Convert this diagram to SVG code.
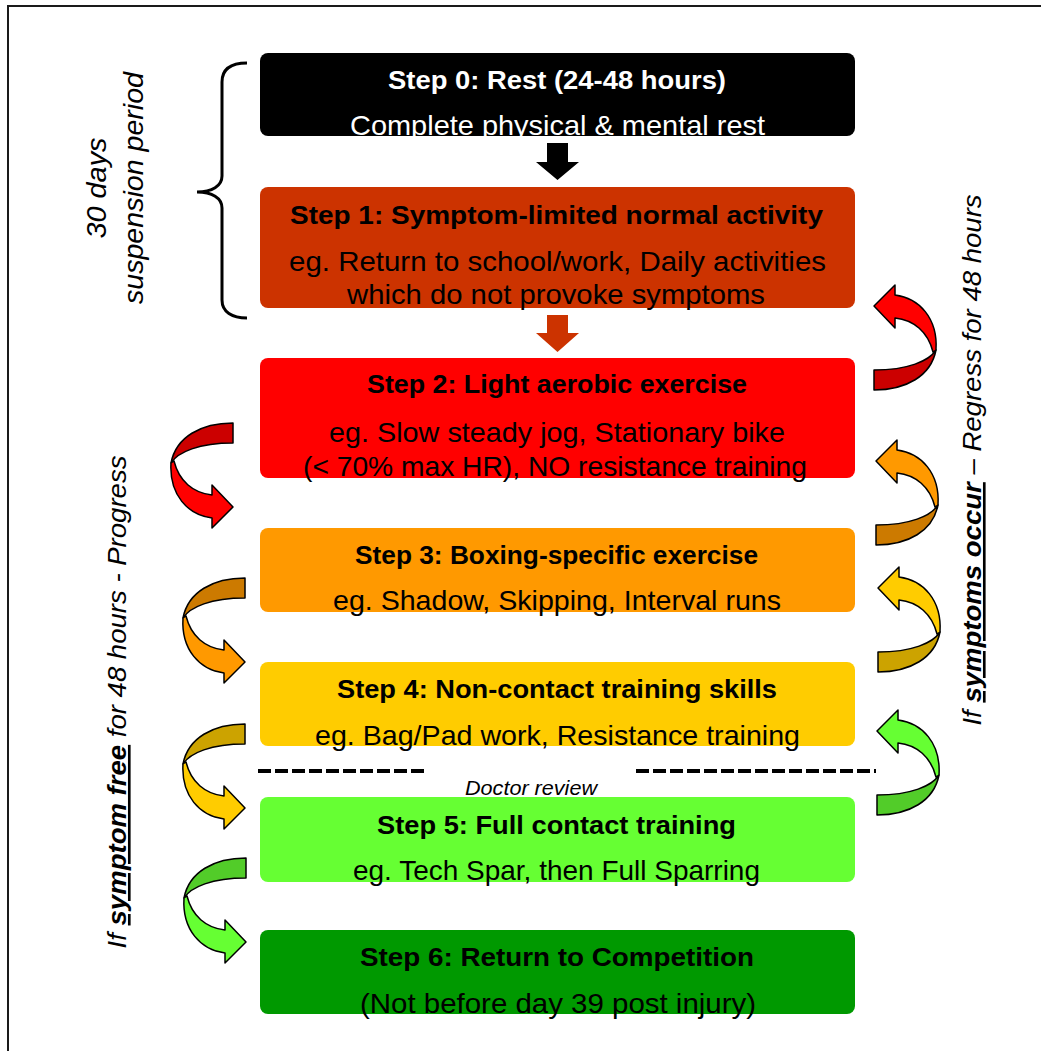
<svg xmlns="http://www.w3.org/2000/svg" xmlns:xlink="http://www.w3.org/1999/xlink" width="1041" height="1051" viewBox="0 0 1041 1051">
<style>
text{font-family:"Liberation Sans",Arial,sans-serif;fill:#000}
.t{font-size:26.5px;font-weight:bold;text-anchor:middle}
.b{font-size:28.5px;text-anchor:middle}
.w{fill:#fff}
.it{font-style:italic}
.side{font-size:26.5px;font-style:italic;text-anchor:middle}
.ul{font-weight:bold;text-decoration:underline}
.arr{stroke:#000;stroke-width:1.5;stroke-linejoin:round}
</style>
<defs>
<path id="cD" class="arr" d="M0,0 C-32,0 -57,14 -62,40 C-55,29 -34,20 0,20 Z"/>
<path id="cL" class="arr" d="M-62,40 C-64,72 -45,92 -21,95 L-21,105 L0,84 L-21,62 L-21,72 C-40,70 -54,58 -59,38 Z"/>
</defs>
<rect x="0" y="0" width="1041" height="1051" fill="#fff"/>
<rect x="8" y="6" width="1100" height="1100" fill="none" stroke="#1a1a1a" stroke-width="2"/>

<g id="brace">
<path d="M247,63 C232,63 222,68 222,82 L222,176 C222,186 212,192 197,192 C212,192 222,198 222,208 L222,300 C222,312 232,318 247,318" fill="none" stroke="#000" stroke-width="3"/>
<text class="it" font-size="27" text-anchor="middle" transform="translate(106,188) rotate(-90)" textLength="101" lengthAdjust="spacingAndGlyphs">30 days</text>
<text class="it" font-size="27" text-anchor="middle" transform="translate(143,188) rotate(-90)" textLength="232" lengthAdjust="spacingAndGlyphs">suspension period</text>
</g>

<g id="step0">
<rect x="260" y="53" width="595" height="83" rx="8" fill="#000"/>
<text class="t w" x="557" y="89" textLength="338" lengthAdjust="spacingAndGlyphs">Step 0: Rest (24-48 hours)</text>
<text class="b w" x="557.5" y="135" textLength="415" lengthAdjust="spacingAndGlyphs">Complete physical &amp; mental rest</text>
</g>
<g id="step1">
<rect x="260" y="187" width="595" height="121" rx="8" fill="#CC3300"/>
<text class="t" x="556.5" y="224" textLength="533" lengthAdjust="spacingAndGlyphs">Step 1: Symptom-limited normal activity</text>
<text class="b" x="557.5" y="271" textLength="537" lengthAdjust="spacingAndGlyphs">eg. Return to school/work, Daily activities</text>
<text class="b" x="556" y="304" textLength="418" lengthAdjust="spacingAndGlyphs">which do not provoke symptoms</text>
</g>
<g id="step2">
<rect x="260" y="358" width="595" height="120" rx="8" fill="#FF0000"/>
<text class="t" x="557" y="393" textLength="380" lengthAdjust="spacingAndGlyphs">Step 2: Light aerobic exercise</text>
<text class="b" x="557" y="442" textLength="456" lengthAdjust="spacingAndGlyphs">eg. Slow steady jog, Stationary bike</text>
<text class="b" x="555" y="476" textLength="504" lengthAdjust="spacingAndGlyphs">(&lt; 70% max HR), NO resistance training</text>
</g>
<g id="step3">
<rect x="260" y="528" width="595" height="84" rx="8" fill="#FF9900"/>
<text class="t" x="556.5" y="564" textLength="403" lengthAdjust="spacingAndGlyphs">Step 3: Boxing-specific exercise</text>
<text class="b" x="557" y="610" textLength="448" lengthAdjust="spacingAndGlyphs">eg. Shadow, Skipping, Interval runs</text>
</g>
<g id="step4">
<rect x="260" y="662" width="595" height="84" rx="8" fill="#FFCC00"/>
<text class="t" x="557" y="698" textLength="440" lengthAdjust="spacingAndGlyphs">Step 4: Non-contact training skills</text>
<text class="b" x="557.5" y="745" textLength="485" lengthAdjust="spacingAndGlyphs">eg. Bag/Pad work, Resistance training</text>
</g>
<g id="step5">
<rect x="260" y="797" width="595" height="85" rx="8" fill="#66FF33"/>
<text class="t" x="556.5" y="834" textLength="359" lengthAdjust="spacingAndGlyphs">Step 5: Full contact training</text>
<text class="b" x="556.5" y="880" textLength="407" lengthAdjust="spacingAndGlyphs">eg. Tech Spar, then Full Sparring</text>
</g>
<g id="step6">
<rect x="260" y="930" width="595" height="84" rx="8" fill="#009900"/>
<text class="t" x="557" y="966" textLength="394" lengthAdjust="spacingAndGlyphs">Step 6: Return to Competition</text>
<text class="b" x="558" y="1013" textLength="396" lengthAdjust="spacingAndGlyphs">(Not before day 39 post injury)</text>
</g>

<g id="doctor-review">
<line x1="258" y1="771" x2="425" y2="771" stroke="#000" stroke-width="4" stroke-dasharray="13 4"/>
<line x1="636" y1="771" x2="876" y2="771" stroke="#000" stroke-width="4" stroke-dasharray="13 4"/>
<text class="it" font-size="21" x="531" y="795" text-anchor="middle" textLength="132" lengthAdjust="spacingAndGlyphs">Doctor review</text>
</g>

<g id="labels">
<text class="side" transform="translate(126,702) rotate(-90) scale(1.04,1)">If <tspan class="ul">symptom free</tspan> for 48 hours - Progress</text>
<text class="side" transform="translate(981,460) rotate(-90) scale(1.04,1)">If <tspan class="ul">symptoms occur</tspan> – Regress for 48 hours</text>
</g>

<g id="connectors">
<path d="M547,143 L568,143 L568,162 L579,162 L557.5,180 L536,162 L547,162 Z" fill="#000"/>
<path d="M547,315 L568,315 L568,333 L579,333 L557.5,352 L536,333 L547,333 Z" fill="#CC3300"/>
<g transform="translate(233,423)"><use xlink:href="#cD" fill="#CC0000"/><use xlink:href="#cL" fill="#FF0000"/></g>
<g transform="translate(245,578)"><use xlink:href="#cD" fill="#CC7A00"/><use xlink:href="#cL" fill="#FF9900"/></g>
<g transform="translate(245,724)"><use xlink:href="#cD" fill="#CCA300"/><use xlink:href="#cL" fill="#FFCC00"/></g>
<g transform="translate(246,858)"><use xlink:href="#cD" fill="#52CC29"/><use xlink:href="#cL" fill="#66FF33"/></g>
<g transform="translate(874,390) rotate(180)"><use xlink:href="#cD" fill="#CC0000"/><use xlink:href="#cL" fill="#FF0000"/></g>
<g transform="translate(876,545) rotate(180)"><use xlink:href="#cD" fill="#CC7A00"/><use xlink:href="#cL" fill="#FF9900"/></g>
<g transform="translate(878,672) rotate(180)"><use xlink:href="#cD" fill="#CCA300"/><use xlink:href="#cL" fill="#FFCC00"/></g>
<g transform="translate(877,815) rotate(180)"><use xlink:href="#cD" fill="#52CC29"/><use xlink:href="#cL" fill="#66FF33"/></g>
</g>
</svg>
